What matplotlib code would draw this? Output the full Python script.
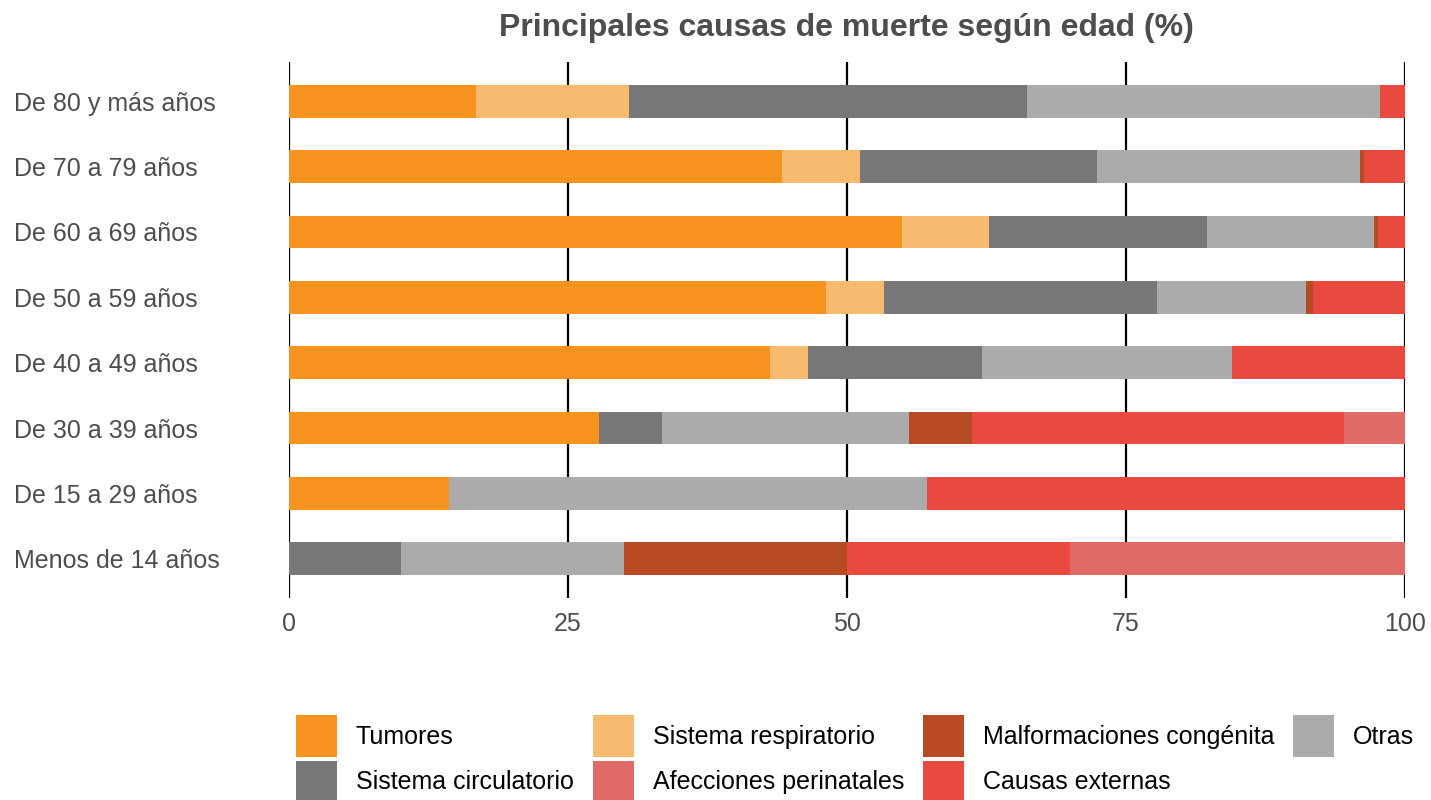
import matplotlib.pyplot as plt
import numpy as np

plt.rcParams['font.family'] = ['Liberation Sans', 'DejaVu Sans']

edades = ['Menos de 14 años', 'De 15 a 29 años', 'De 30 a 39 años', 'De 40 a 49 años',
          'De 50 a 59 años', 'De 60 a 69 años', 'De 70 a 79 años', 'De 80 y más años']

# % per age group, bottom row first
tumores      = [0.0, 14.3, 27.8, 43.1, 48.1, 54.9, 44.2, 16.8]
respiratorio = [0.0, 0.0, 0.0, 3.4, 5.2, 7.8, 7.0, 13.7]
circulatorio = [10.0, 0.0, 5.6, 15.6, 24.5, 19.6, 21.2, 35.6]
otras        = [20.0, 42.9, 22.2, 22.4, 13.3, 14.9, 23.6, 31.7]
malformac    = [20.0, 0.0, 5.6, 0.0, 0.7, 0.4, 0.3, 0.0]
externas     = [20.0, 42.8, 33.3, 15.5, 8.2, 2.4, 3.7, 2.2]
perinatales  = [30.0, 0.0, 5.5, 0.0, 0.0, 0.0, 0.0, 0.0]

series = [
    ('Tumores', tumores, '#F7931E'),
    ('Sistema respiratorio', respiratorio, '#F8BA6E'),
    ('Sistema circulatorio', circulatorio, '#777777'),
    ('Otras', otras, '#ABABAB'),
    ('Malformaciones congénita', malformac, '#B84A24'),
    ('Causas externas', externas, '#E84A3F'),
    ('Afecciones perinatales', perinatales, '#E06B66'),
]

fig = plt.figure(figsize=(14.31, 8), dpi=100)
ax = fig.add_axes([289 / 1431, 1 - 598 / 800, (1405 - 289) / 1431, (598 - 62) / 800])

y = np.arange(len(edades))
left = np.zeros(len(edades))
bars = {}
for name, vals, col in series:
    bars[name] = ax.barh(y, vals, left=left, height=0.5, color=col, zorder=2)
    left += np.array(vals)

ax.set_xlim(0, 100)
ax.set_ylim(-0.6, 7.6)
ax.set_yticks(y)
ax.set_yticklabels(edades, fontsize=18, color='#4D4D4D')
ax.set_xticks([0, 25, 50, 75, 100])
ax.set_xticklabels(['0', '25', '50', '75', '100'], fontsize=18, color='#4D4D4D')
ax.tick_params(length=0, pad=10)
for lbl in ax.get_yticklabels():
    lbl.set_horizontalalignment('left')
    lbl.set_x(-261 / 1116)
ax.grid(axis='x', color='black', linewidth=1.6, zorder=0)
ax.set_axisbelow(True)
for s in ax.spines.values():
    s.set_visible(False)

fig.suptitle('Principales causas de muerte según edad (%)', x=846 / 1431, y=0.984,
             fontsize=23, fontweight='bold', color='#4D4D4D', va='top')

order = ['Tumores', 'Sistema circulatorio', 'Sistema respiratorio', 'Afecciones perinatales',
         'Malformaciones congénita', 'Causas externas', 'Otras']
fig.legend([bars[n] for n in order], order, ncol=4, loc='upper left',
           bbox_to_anchor=(296 / 1431, 1 - 715 / 800), frameon=False, fontsize=18,
           handlelength=1.65, handleheight=2.2, columnspacing=0.75, handletextpad=0.75,
           labelspacing=0.15, borderpad=0, borderaxespad=0)

fig.savefig('out.png', dpi=100)
